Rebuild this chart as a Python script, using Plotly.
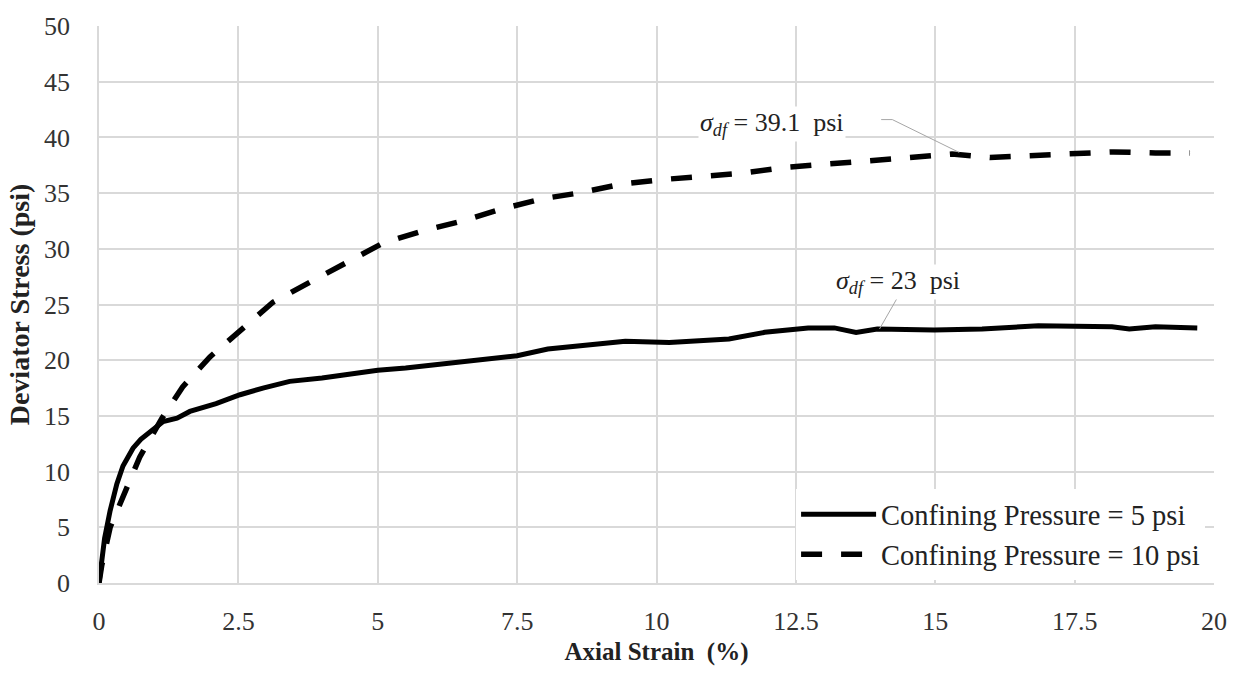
import plotly.graph_objects as go

# Confining pressure = 5 psi (solid)
strain_5 = [0.0, 0.05, 0.1, 0.2, 0.32, 0.43, 0.61, 0.75, 0.91, 1.15, 1.4, 1.63, 2.1, 2.53, 2.94,
            3.42, 4.0, 4.5, 5.0, 5.5, 6.0, 6.5, 7.0, 7.5, 8.05, 8.75, 9.44, 10.23, 11.3, 11.94,
            12.72, 13.19, 13.58, 13.96, 14.98, 15.84, 16.85, 18.17, 18.48, 18.95, 19.7]
stress_5 = [0.0, 2.2, 4.0, 6.5, 8.9, 10.5, 12.1, 12.9, 13.6, 14.5, 14.8, 15.4, 16.1, 16.9, 17.5,
            18.1, 18.4, 18.8, 19.1, 19.3, 19.6, 19.9, 20.2, 20.4, 21.0, 21.3, 21.7, 21.6, 21.9, 22.5,
            22.9, 22.9, 22.5, 22.8, 22.7, 22.8, 23.1, 23.0, 22.8, 23.0, 22.9]

# Confining pressure = 10 psi (dashed)
strain_10 = [0.0, 0.05, 0.2, 0.43, 0.73, 1.13, 1.5, 1.99, 2.53, 3.12, 3.78, 4.44, 5.09, 5.8,
             6.52, 7.24, 7.96, 8.6, 9.37, 10.07, 10.86, 11.56, 12.3, 13.03, 13.8, 14.5, 15.3,
             15.98, 16.7, 17.5, 18.2, 18.95, 19.57]
stress_10 = [0.0, 1.6, 5.0, 7.7, 11.3, 14.8, 17.6, 20.3, 22.6, 25.2, 27.0, 28.8, 30.5, 31.6,
             32.5, 33.6, 34.5, 35.0, 35.8, 36.2, 36.5, 36.8, 37.3, 37.6, 38.0, 38.2, 38.5,
             38.2, 38.4, 38.6, 38.7, 38.6, 38.6]

x_ticks = [0, 2.5, 5, 7.5, 10, 12.5, 15, 17.5, 20]
x_tick_labels = ["0", "2.5", "5", "7.5", "10", "12.5", "15", "17.5", "20"]
y_ticks = [0, 5, 10, 15, 20, 25, 30, 35, 40, 45, 50]

FONT = "Liberation Serif, Times New Roman, serif"
GRID = "#d9d9d9"

fig = go.Figure()
fig.add_trace(go.Scatter(x=strain_5, y=stress_5, mode="lines",
                         name="Confining Pressure = 5 psi",
                         line=dict(color="black", width=5)))
fig.add_trace(go.Scatter(x=strain_10, y=stress_10, mode="lines",
                         name="Confining Pressure = 10 psi",
                         line=dict(color="black", width=5.5, dash="21px,19px")))

# leader lines for the labels
fig.add_shape(type="path", xref="x", yref="y",
              path="M 14.03 41.6 L 14.23 41.6 L 15.43 38.65",
              line=dict(color="#a6a6a6", width=1), layer="above")
fig.add_shape(type="line", xref="x", yref="y", x0=14.32, y0=25.6, x1=14.0, y1=22.8,
              line=dict(color="#a6a6a6", width=1), layer="above")

fig.add_annotation(x=12.08, y=41.2, xref="x", yref="y", showarrow=False,
                   text="<i>σ</i><sub><i>df</i></sub> = 39.1  psi",
                   font=dict(family=FONT, size=26, color="#222"), bgcolor="white")
fig.add_annotation(x=14.34, y=27.0, xref="x", yref="y", showarrow=False,
                   text="<i>σ</i><sub><i>df</i></sub> = 23  psi",
                   font=dict(family=FONT, size=26, color="#222"), bgcolor="white")

fig.update_layout(
    width=1239, height=673,
    margin=dict(l=99, r=23, t=23, b=86),
    paper_bgcolor="white", plot_bgcolor="white",
    font=dict(family=FONT, size=26, color="#333"),
    showlegend=True,
    legend=dict(x=0.992, y=0.005, xanchor="right", yanchor="bottom",
                bgcolor="white", borderwidth=0,
                font=dict(family=FONT, size=28.5, color="#222"),
                itemwidth=75, tracegroupgap=0),
    xaxis=dict(range=[0, 20], tickvals=x_ticks, ticktext=x_tick_labels,
               showgrid=True, gridcolor=GRID, gridwidth=1.5,
               showline=True, linecolor=GRID, linewidth=1.5, zeroline=False,
               ticks="", ticklabelstandoff=14,
               tickfont=dict(family=FONT, size=26, color="#333"),
               title=dict(text="<b>Axial Strain  (%)</b>", standoff=8,
                          font=dict(family=FONT, size=25, color="#222"))),
    yaxis=dict(range=[0, 50], tickvals=y_ticks,
               showgrid=True, gridcolor=GRID, gridwidth=1.5,
               showline=True, linecolor=GRID, linewidth=1.5, zeroline=False,
               ticks="", ticklabelstandoff=22,
               tickfont=dict(family=FONT, size=26, color="#333"),
               title=dict(text="<b>Deviator Stress (psi)</b>", standoff=6,
                          font=dict(family=FONT, size=28, color="#222"))),
)

fig.write_html("out.html", config={"displayModeBar": False},
               post_script="document.body.style.margin='0';")
